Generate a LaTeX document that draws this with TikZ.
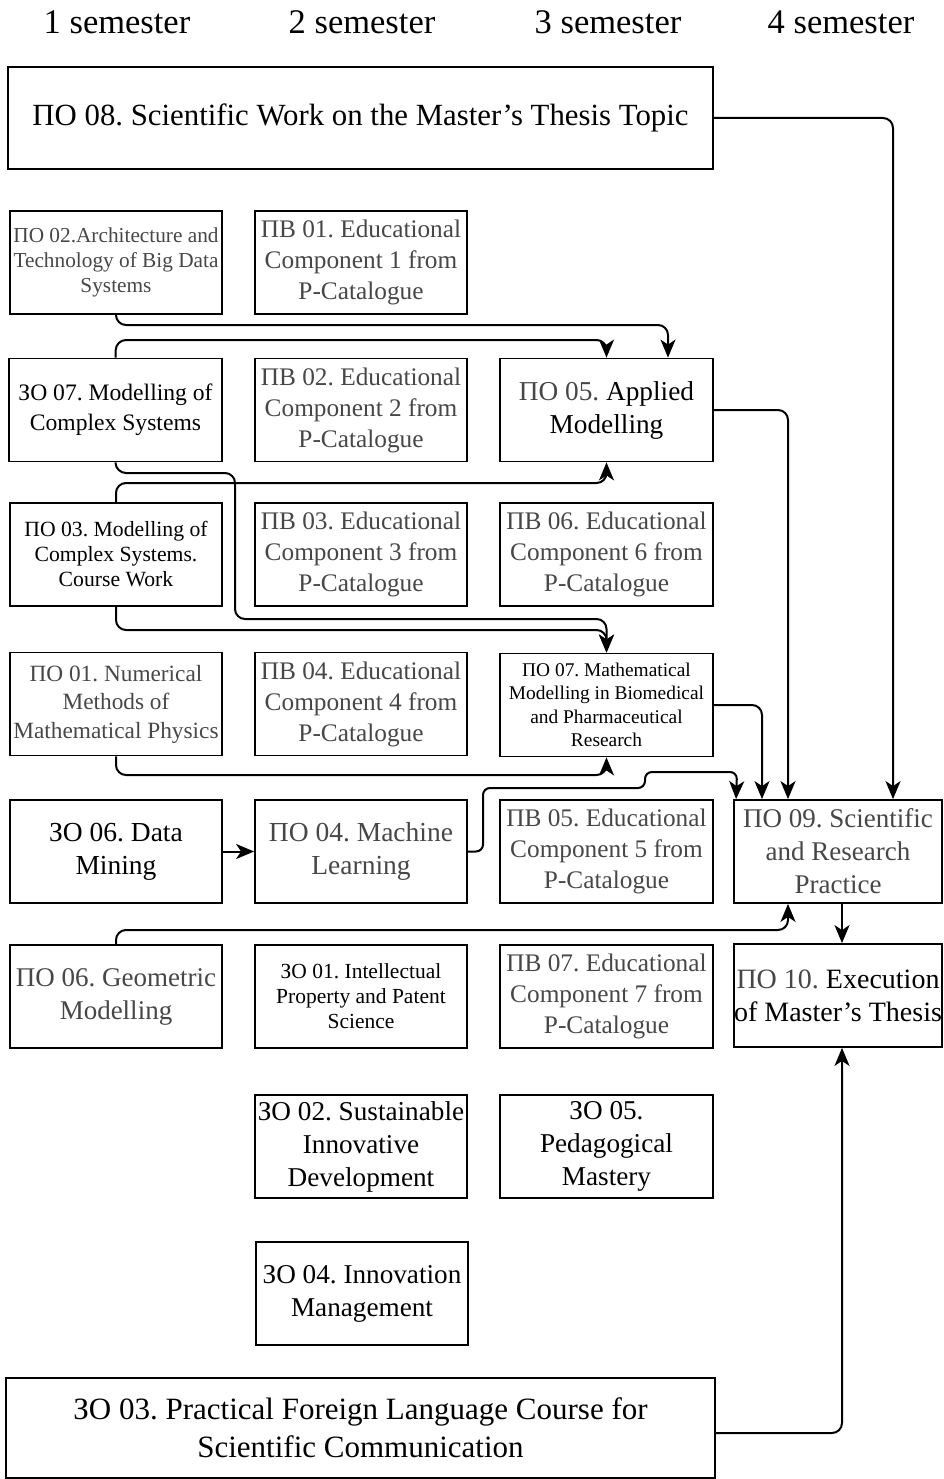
\documentclass[tikz,border=0pt]{standalone}
\usepackage{fontspec}
\setmainfont{Liberation Serif}
\usetikzlibrary{arrows.meta}
\definecolor{tg}{HTML}{474747}
\newcommand{\fsz}[2]{\fontsize{#1pt}{#2pt}\selectfont}
\frenchspacing
\begin{document}
\frenchspacing
\begin{tikzpicture}[x=1pt,y=-1pt,
  box/.style={draw=black, line width=1.8pt, minimum width=212pt, minimum height=103pt, inner sep=0pt, align=center, text=black, font=\fsz{27}{33}},
  gbox/.style={box, text=tg},
  pvbox/.style={box, text=tg, font=\fsz{25.3}{31}},
  conn/.style={line width=2pt, rounded corners=10pt, -{Stealth[length=18pt,width=15pt,inset=5pt]}},
  hdr/.style={font=\fsz{34.5}{40}, inner sep=0pt}]
\fill[white] (0,0) rectangle (943,1479);
\useasboundingbox (0,0) rectangle (943,1479);
% headers
\node[hdr] (s1) at (117,22) {1 semester};
\node[hdr] (s2) at (362,22) {2 semester};
\node[hdr] (s3) at (608,22) {3 semester};
\node[hdr] (s4) at (841,22) {4 semester};
% top and bottom wide boxes
\node[box, minimum width=705pt, minimum height=102pt, font=\fsz{30.8}{38}] (po08) at (360.5,118) {ПО 08. Scientific Work on the Master’s Thesis Topic};
\node[box, minimum width=709pt, minimum height=100pt, font=\fsz{31}{38}] (zo03) at (360.5,1428) {ЗО 03. Practical Foreign Language Course for\\Scientific Communication};
% row 1
\node[gbox, font=\fsz{21.3}{25}] (po02) at (116,262.5) {ПО 02.Architecture and\\Technology of Big Data\\Systems};
\node[pvbox] (pv01) at (361,262.5) {ПВ 01. Educational\\Component 1 from\\P-Catalogue};
% row 2
\node[box, minimum width=213pt, font=\fsz{23.6}{30}] (zo07) at (115.5,410) {ЗО 07. Modelling of\\Complex Systems};
\node[pvbox] (pv02) at (361,410) {ПВ 02. Educational\\Component 2 from\\P-Catalogue};
\node[box, minimum width=213pt, font=\fsz{27.3}{33}] (po05) at (606.5,410) {{\color{tg}ПО 05.} Applied\\Modelling};
% row 3
\node[box, font=\fsz{21.7}{25}] (po03) at (116,554.5) {ПО 03. Modelling of\\Complex Systems.\\Course Work};
\node[pvbox] (pv03) at (361,554.5) {ПВ 03. Educational\\Component 3 from\\P-Catalogue};
\node[pvbox, minimum width=213pt] (pv06) at (606.5,554.5) {ПВ 06. Educational\\Component 6 from\\P-Catalogue};
% row 4
\node[gbox, font=\fsz{23.3}{28.5}] (po01) at (116,704) {ПО 01. Numerical\\Methods of\\Mathematical Physics};
\node[pvbox] (pv04) at (361,704) {ПВ 04. Educational\\Component 4 from\\P-Catalogue};
\node[box, minimum width=213pt, font=\fsz{19.4}{23.5}] (po07) at (606.5,705) {ПО 07. Mathematical\\Modelling in Biomedical\\and Pharmaceutical\\Research};
% row 5
\node[box, font=\fsz{27.5}{33}] (zo06) at (116,851.5) {ЗО 06. Data\\Mining};
\node[gbox, font=\fsz{27.5}{33}] (po04) at (361,851.5) {ПО 04. Machine\\Learning};
\node[pvbox, minimum width=213pt] (pv05) at (606.5,851.5) {ПВ 05. Educational\\Component 5 from\\P-Catalogue};
\node[gbox, minimum width=208pt] (po09) at (838,851.5) {ПО 09. Scientific\\and Research\\Practice};
% row 6
\node[gbox] (po06) at (116,996.5) {ПО 06. Geometric\\Modelling};
\node[box, font=\fsz{21.5}{25}] (zo01) at (361,996.5) {ЗО 01. Intellectual\\Property and Patent\\Science};
\node[pvbox, minimum width=213pt] (pv07) at (606.5,996.5) {ПВ 07. Educational\\Component 7 from\\P-Catalogue};
\node[box, minimum width=208pt, font=\fsz{28}{33}] (po10) at (838,995.5) {{\color{tg}ПО 10.} Execution\\of Master's Thesis};
% row 7, 8
\node[box, font=\fsz{27.2}{33}] (zo02) at (361,1146.5) {ЗО 02. Sustainable\\Innovative\\Development};
\node[box, minimum width=213pt, font=\fsz{27.2}{33}] (zo05) at (606.5,1146.5) {ЗО 05.\\Pedagogical\\Mastery};
\node[box, font=\fsz{27.2}{33}] (zo04) at (362,1293.5) {ЗО 04. Innovation\\Management};
% connectors
\draw[conn] (po08.east) -| ([xshift=55pt]po09.north);
\draw[conn] (po02.south) -- (116,325) -- (668,325) -- ([xshift=61.5pt]po05.north);
\draw[conn] (zo07.north) -- (116,340) -- (606.5,340) -- (po05.north);
\draw[conn] (zo07.south) -- (116,473) -- (235,473) -- (235,619) -- (606.5,619) -- (po07.north);
\draw[conn] (po03.north) -- (116,483) -- (606.5,483) -- (po05.south);
\draw[conn] (po03.south) -- (116,630) -- (606.5,630) -- (po07.north);
\draw[conn] (po01.south) -- (116,775) -- (606.5,775) -- (po07.south);
\draw[conn] (zo06.east) -- (po04.west);
\draw[conn, rounded corners=7pt] (po04.east) -- (483,851.5) -- (483,788) -- (645,788) -- (645,772) -- (737,772) -- ([xshift=3pt]po09.north west);
\draw[conn] (po07.east) -| ([xshift=-76pt]po09.north);
\draw[conn] (po05.east) -| ([xshift=-50pt]po09.north);
\draw[conn] (po06.north) -- (116,930) -- (788,930) -- ([xshift=-50pt]po09.south);
\draw[conn] ([xshift=4pt]po09.south) -- ([xshift=4pt]po10.north);
\draw[conn] ([yshift=-5pt]zo03.east) -| ([xshift=4pt]po10.south);
\end{tikzpicture}
\end{document}
